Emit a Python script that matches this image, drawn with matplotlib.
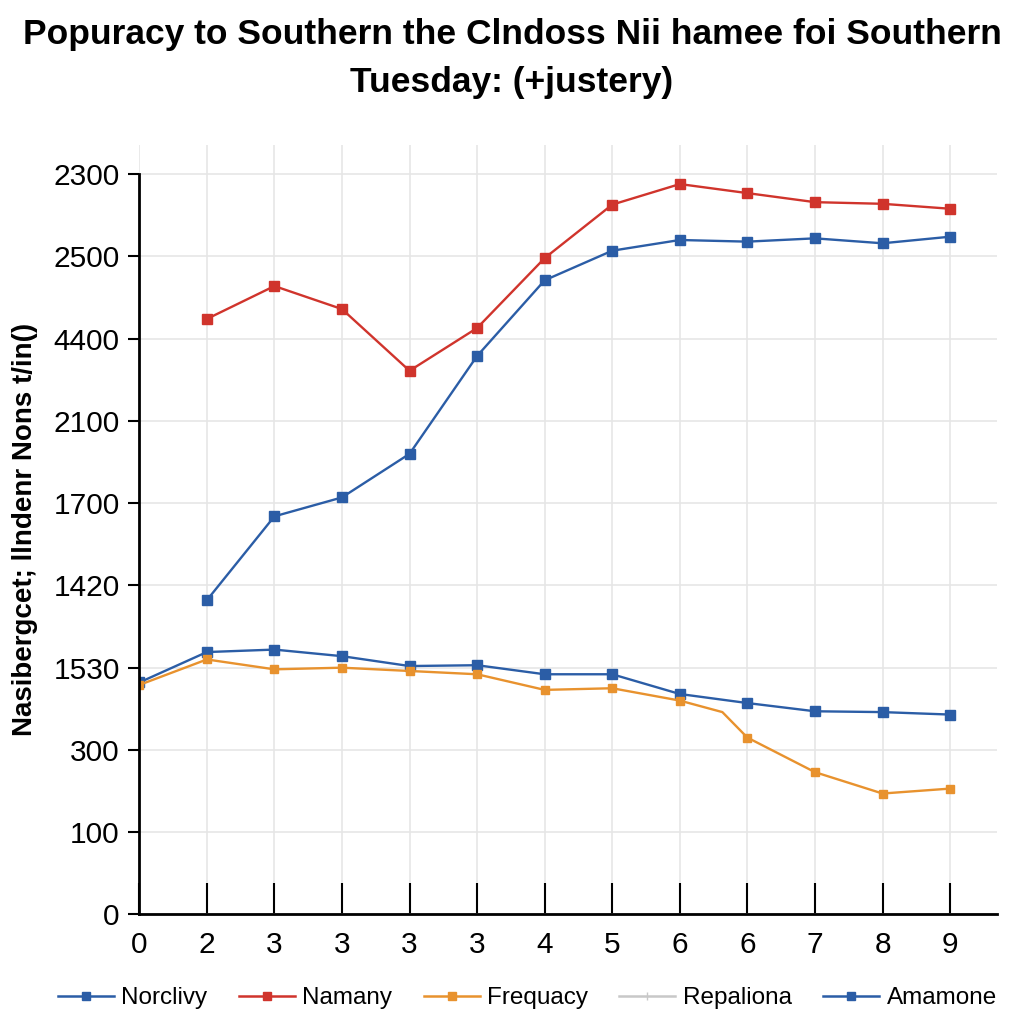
import numpy as np
import matplotlib
matplotlib.use("Agg")
import matplotlib.pyplot as plt
from matplotlib.lines import Line2D

plt.rcParams['font.family'] = ['Liberation Sans', 'DejaVu Sans']

# x positions are category slots, tick labels as printed on the chart
x_labels = ["0", "2", "3", "3", "3", "3", "4", "5", "6", "6", "7", "8", "9"]
y_labels = ["0", "100", "300", "1530", "1420", "1700", "2100", "4400", "2500", "2300"]

# values in tick-slot units x100 (slot i = i*100)
norclivy = [282, 319, 322, 314, 302, 303, 292, 292, 268, 257, 247, 246, 243]
namany = [724, 764, 736, 661, 713, 798, 863, 888, 877, 866, 864, 858]
frequacy_x = [0, 1, 2, 3, 4, 5, 6, 7, 8, 8.63, 9, 10, 11, 12]
frequacy = [279, 310, 298, 300, 296, 292, 273, 275, 260, 246, 215, 173, 147, 153]
amamone = [382, 484, 507, 560, 679, 771, 807, 820, 818, 822, 816, 824]

blue = "#2b5da6"
red = "#d0342c"
orange = "#e8922e"
gray = "#c8c8c8"

fig = plt.figure(figsize=(10.24, 10.24), dpi=100)
ax = fig.add_axes([0.136, 0.107, 0.838, 0.751])

xs = np.arange(len(x_labels))
ax.plot(xs, norclivy, color=blue, lw=1.7, marker="s", ms=7, label="Norclivy")
ax.plot(xs[1:], namany, color=red, lw=1.7, marker="s", ms=7, label="Namany")
mk = [i for i, v in enumerate(frequacy_x) if float(v).is_integer()]
ax.plot(frequacy_x, frequacy, color=orange, lw=1.7, marker="s", ms=6,
        markevery=mk, label="Frequacy")
ax.plot(xs[1:], amamone, color=blue, lw=1.7, marker="s", ms=7, label="Amamone")

ax.set_xlim(0, 12.7)
ax.set_ylim(0, 935)
ax.set_xticks(xs)
ax.set_xticklabels(x_labels, fontsize=21.5)
ax.set_yticks(np.arange(len(y_labels)) * 100)
ax.set_yticklabels(y_labels, fontsize=21.5)
ax.tick_params(axis="x", direction="in", length=22, width=1.5, pad=12)
ax.tick_params(axis="y", direction="out", length=8, width=1.5, pad=6)
ax.grid(True, color="#e6e6e6", lw=1.2)
ax.set_axisbelow(True)
for s in ["top", "right"]:
    ax.spines[s].set_visible(False)
for s in ["left", "bottom"]:
    ax.spines[s].set_linewidth(2)
ax.spines["left"].set_bounds(0, 900)

ax.set_ylabel("Nasibergcet; llndenr Nons t/in()", fontsize=20, fontweight="bold")
ax.yaxis.set_label_coords(-0.118, 0.5)

fig.suptitle("Popuracy to Southern the Clndoss Nii hamee foi Southern\nTuesday: (+justery)",
             fontsize=25.5, fontweight="bold", y=0.982, linespacing=1.55)

handles = [
    Line2D([], [], color=blue, lw=1.8, marker="s", ms=6),
    Line2D([], [], color=red, lw=1.8, marker="s", ms=6),
    Line2D([], [], color=orange, lw=1.8, marker="s", ms=6),
    Line2D([], [], color=gray, lw=1.8, marker="|", ms=6),
    Line2D([], [], color=blue, lw=1.8, marker="s", ms=6),
]
names = ["Norclivy", "Namany", "Frequacy", "Repaliona", "Amamone"]
fig.legend(handles, names, loc="center", bbox_to_anchor=(0.515, 0.025), ncol=5,
           frameon=False, fontsize=17.5, handlelength=2.3, columnspacing=1.3,
           handletextpad=0.3)

fig.savefig("out.png", dpi=100)
